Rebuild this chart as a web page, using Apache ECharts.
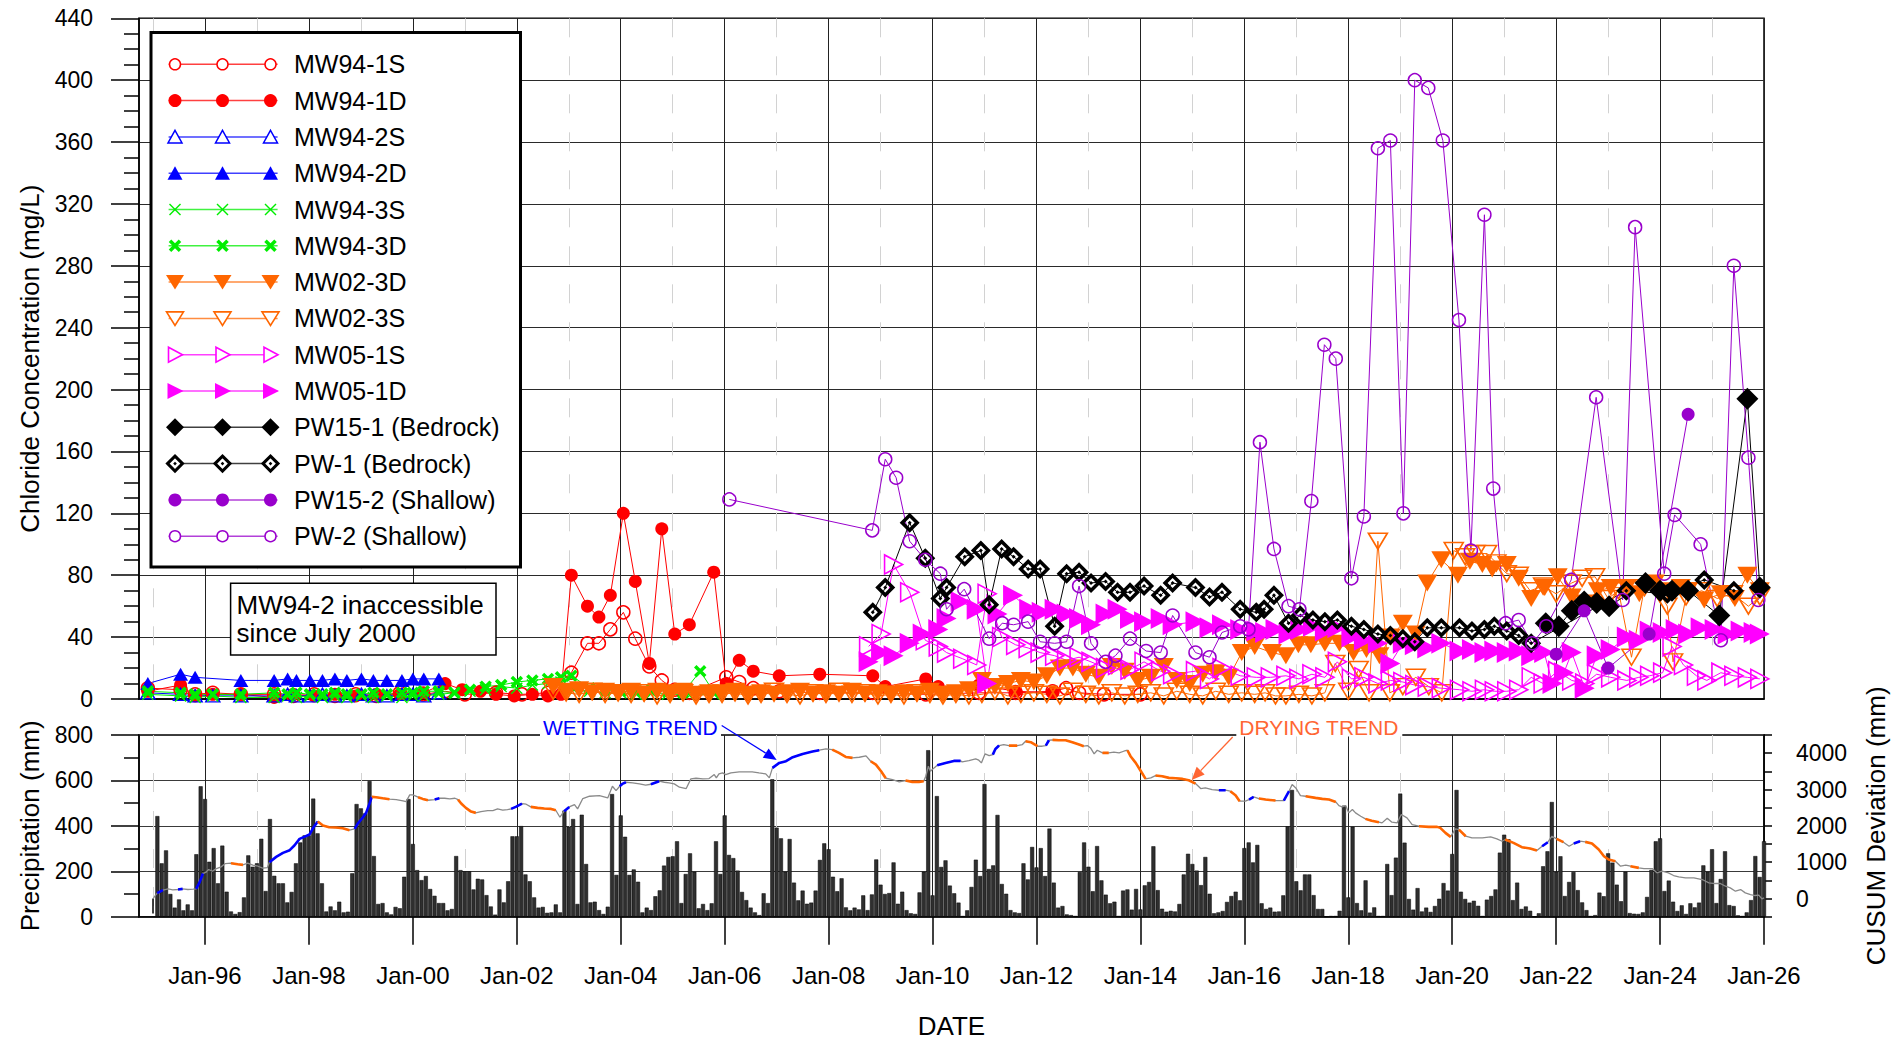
<!DOCTYPE html>
<html>
<head>
<meta charset="utf-8">
<title>Chloride Concentration, Precipitation and CUSUM Deviation</title>
<script src="https://cdn.jsdelivr.net/npm/echarts@6/dist/echarts.min.js"></script>
<style>
  html, body { margin: 0; padding: 0; background: #ffffff; }
  #chart { width: 1902px; height: 1047px; }
</style>
</head>
<body>
<div id="chart"></div>
<script>
// ---------- Chloride concentration (mg/L) by well: [decimal year, value] ----------
const mw94_1S = [[1994.90,7],[1995.53,6],[1995.81,3],[1996.15,4],[1996.69,3],[1997.33,3],[1997.70,2],[1998.10,3],[1998.50,2],[1998.90,3],[1999.30,2],[1999.75,4],[2000.20,3],[2000.62,5],[2001.00,3],[2001.60,4],[2002.10,3],[2002.60,4],[2003.05,17],[2003.36,36],[2003.58,36],[2003.80,45],[2004.05,56],[2004.28,39],[2004.55,21],[2004.79,12],[2005.04,6],[2005.32,4],[2006.03,14],[2006.28,11],[2006.55,7],[2007.05,5],[2007.83,4],[2008.85,4],[2009.87,3],[2010.89,4],[2011.60,4],[2012.31,5],[2012.57,7],[2012.82,4],[2013.30,3],[2014.00,3]];
const mw94_1D = [[1994.90,5],[1995.53,9],[1995.81,2],[1996.15,3],[1996.69,3],[1997.33,1],[1997.70,3],[1998.10,2],[1998.50,3],[1998.90,2],[1999.30,3],[1999.75,3],[2000.20,4],[2000.62,10],[2000.95,6],[2001.30,5],[2001.60,3],[2001.95,2],[2002.30,3],[2002.60,2],[2002.85,3],[2003.05,80],[2003.36,60],[2003.58,53],[2003.80,67],[2004.05,120],[2004.28,76],[2004.55,23],[2004.79,110],[2005.04,42],[2005.32,48],[2005.79,82],[2006.03,10],[2006.28,25],[2006.55,18],[2007.05,15],[2007.83,16],[2008.85,15],[2009.09,8],[2009.87,13],[2010.11,8],[2010.89,9],[2011.60,5],[2012.31,4]];
const mw94_2S = [[1994.90,4],[1995.53,3],[1995.81,2],[1996.15,2],[1996.69,2],[1997.33,2],[1997.59,3],[1997.76,2],[1998.02,2],[1998.26,3],[1998.50,2],[1998.73,2],[1999.01,3],[1999.24,2],[1999.50,2],[1999.79,3],[2000.00,3],[2000.21,2],[2000.50,4]];
const mw94_2D = [[1994.90,10],[1995.53,16],[1995.81,14],[1996.69,12],[1997.33,12],[1997.59,13],[1997.76,12],[1998.02,12],[1998.26,12],[1998.50,13],[1998.73,12],[1999.01,13],[1999.24,12],[1999.50,12],[1999.79,12],[2000.00,13],[2000.21,13],[2000.50,13]];
const mw94_3S = [[1994.90,3],[1995.53,2],[1995.81,1],[1996.15,2],[1996.69,1],[1997.33,1],[1997.59,2],[1997.76,1],[1998.02,2],[1998.26,1],[1998.50,2],[1998.73,1],[1999.01,2],[1999.24,1],[1999.50,2],[1999.79,1],[2000.00,2],[2000.21,2],[2000.50,3],[2000.80,4],[2001.10,5],[2001.40,6],[2001.70,8],[2002.00,7],[2002.30,9],[2002.60,10],[2002.85,11],[2003.10,6],[2003.40,5],[2003.70,4],[2004.00,4],[2004.30,3],[2004.60,4],[2004.90,3],[2005.30,3],[2005.80,3]];
const mw94_3D = [[1994.90,5],[1995.53,4],[1995.81,3],[1996.15,3],[1996.69,3],[1997.33,4],[1997.59,3],[1997.76,4],[1998.02,3],[1998.26,3],[1998.50,4],[1998.73,3],[1999.01,3],[1999.24,4],[1999.50,3],[1999.79,4],[2000.00,4],[2000.21,5],[2000.50,5],[2000.80,4],[2001.10,6],[2001.40,8],[2001.70,9],[2002.00,11],[2002.30,12],[2002.60,13],[2002.85,14],[2003.05,15],[2003.40,7],[2003.70,6],[2004.00,5],[2004.30,5],[2004.60,6],[2004.90,5],[2005.20,4],[2005.53,18],[2005.80,4]];
const mw02_3D = [[2002.70,8],[2002.95,5],[2003.20,6],[2003.45,4],[2003.70,5],[2003.95,4],[2004.20,5],[2004.45,3],[2004.70,5],[2004.95,4],[2005.20,5],[2005.45,3],[2005.70,4],[2005.95,4],[2006.20,5],[2006.45,3],[2006.70,4],[2006.95,3],[2007.20,4],[2007.45,5],[2007.70,3],[2007.95,4],[2008.20,3],[2008.45,5],[2008.70,3],[2008.95,4],[2009.20,3],[2009.45,4],[2009.70,3],[2009.95,5],[2010.20,3],[2010.45,4],[2010.70,6],[2010.95,12],[2011.20,8],[2011.45,10],[2011.70,12],[2011.95,11],[2012.20,15],[2012.45,20],[2012.70,20],[2012.95,16],[2013.20,14],[2013.45,21],[2013.70,18],[2013.95,12],[2014.20,14],[2014.45,21],[2014.70,12],[2014.95,10],[2015.20,16],[2015.45,17],[2015.70,14],[2015.95,30],[2016.20,34],[2016.53,30],[2016.80,28],[2017.04,35],[2017.28,35],[2017.55,36],[2017.83,36],[2018.10,30],[2018.35,32],[2018.60,28],[2018.82,40],[2019.05,49],[2019.30,42],[2019.52,75],[2019.79,90],[2020.11,80],[2020.34,89],[2020.58,87],[2020.77,84],[2021.05,87],[2021.28,78],[2021.52,65],[2021.78,72],[2022.03,79],[2022.30,66],[2022.55,62],[2022.80,70],[2023.05,72],[2023.36,72],[2023.60,68],[2023.90,75],[2024.15,70],[2024.40,72],[2024.54,70],[2024.85,64],[2025.17,68],[2025.44,65],[2025.68,80],[2025.92,70]];
const mw02_3S = [[2002.70,5],[2002.95,4],[2003.20,3],[2003.45,5],[2003.70,3],[2003.95,4],[2004.20,3],[2004.45,4],[2004.70,2],[2004.95,3],[2005.20,4],[2005.45,2],[2005.70,3],[2005.95,3],[2006.20,4],[2006.45,2],[2006.70,3],[2006.95,5],[2007.20,3],[2007.45,2],[2007.70,4],[2007.95,3],[2008.20,5],[2008.45,3],[2008.70,4],[2008.95,2],[2009.20,3],[2009.45,2],[2009.70,4],[2009.95,3],[2010.20,2],[2010.45,3],[2010.70,2],[2010.95,3],[2011.20,5],[2011.45,2],[2011.70,3],[2011.95,4],[2012.20,3],[2012.45,2],[2012.70,5],[2012.95,3],[2013.20,2],[2013.45,4],[2013.70,2],[2013.95,3],[2014.20,4],[2014.45,2],[2014.70,5],[2014.95,3],[2015.20,2],[2015.45,5],[2015.70,3],[2015.95,4],[2016.20,3],[2016.40,4],[2016.60,2],[2016.80,2],[2017.05,3],[2017.30,2],[2017.55,4],[2017.75,23],[2018.00,5],[2018.20,19],[2018.40,4],[2018.57,102],[2018.80,4],[2019.05,8],[2019.30,14],[2019.55,8],[2019.80,4],[2020.03,96],[2020.25,92],[2020.45,94],[2020.67,94],[2020.85,88],[2021.05,81],[2021.28,80],[2021.50,70],[2021.75,73],[2022.00,68],[2022.30,75],[2022.50,78],[2022.75,79],[2023.00,65],[2023.20,70],[2023.45,27],[2023.70,72],[2024.00,68],[2024.14,60],[2024.25,24],[2024.50,66],[2024.80,70],[2025.10,65],[2025.40,68],[2025.70,60],[2025.92,66]];
const mw05_1S = [[2008.77,34],[2009.01,42],[2009.25,87],[2009.56,69],[2009.86,38],[2010.11,34],[2010.27,30],[2010.58,26],[2010.85,22],[2011.05,68],[2011.33,40],[2011.60,35],[2011.84,33],[2012.07,30],[2012.35,28],[2012.58,25],[2012.82,27],[2013.05,24],[2013.33,20],[2013.56,22],[2013.80,19],[2014.07,24],[2014.39,18],[2014.62,16],[2015.06,18],[2015.33,13],[2015.57,20],[2015.92,15],[2016.23,14],[2016.50,14],[2016.80,15],[2017.05,13],[2017.30,16],[2017.55,14],[2017.79,24],[2018.06,13],[2018.30,14],[2018.57,10],[2018.81,12],[2019.05,11],[2019.28,9],[2019.52,8],[2019.79,7],[2020.14,6],[2020.38,5],[2020.62,6],[2020.81,5],[2021.05,5],[2021.28,6],[2021.52,14],[2021.75,10],[2022.03,18],[2022.30,12],[2022.55,10],[2022.78,16],[2023.05,14],[2023.36,12],[2023.59,14],[2023.80,15],[2024.05,17],[2024.23,34],[2024.45,22],[2024.70,15],[2024.90,12],[2025.17,17],[2025.42,15],[2025.68,14],[2025.92,13]];
const mw05_1D = [[2008.77,24],[2009.01,30],[2009.25,28],[2009.56,36],[2009.81,42],[2010.11,45],[2010.27,52],[2010.54,63],[2010.85,58],[2011.05,10],[2011.25,55],[2011.55,67],[2011.86,58],[2012.10,56],[2012.35,58],[2012.58,55],[2012.82,52],[2013.05,48],[2013.33,55],[2013.56,58],[2013.80,52],[2014.07,50],[2014.39,52],[2014.62,48],[2015.06,50],[2015.33,46],[2015.57,48],[2015.92,45],[2016.23,44],[2016.40,43],[2016.60,45],[2016.85,42],[2017.08,45],[2017.32,47],[2017.55,44],[2017.79,46],[2018.06,40],[2018.30,38],[2018.57,36],[2018.81,23],[2019.05,36],[2019.28,35],[2019.52,33],[2019.79,36],[2020.14,31],[2020.38,32],[2020.62,30],[2020.81,31],[2021.05,30],[2021.28,31],[2021.52,28],[2021.77,30],[2021.93,10],[2022.15,17],[2022.30,30],[2022.55,7],[2022.78,28],[2023.05,32],[2023.36,40],[2023.59,38],[2023.80,44],[2024.05,43],[2024.30,45],[2024.54,42],[2024.78,46],[2025.05,45],[2025.30,42],[2025.55,44],[2025.80,43],[2025.92,42]];
const pw15_1 = [[2021.80,49],[2022.05,47],[2022.30,57],[2022.54,63],[2022.78,62],[2023.02,60],[2023.72,75],[2024.00,70],[2024.23,70],[2024.54,70],[2025.14,54],[2025.68,194],[2025.92,72]];
const pw_1 = [[2008.85,56],[2009.09,72],[2009.56,114],[2009.86,91],[2010.15,65],[2010.27,72],[2010.62,92],[2010.93,96],[2011.09,61],[2011.33,97],[2011.56,92],[2011.84,84],[2012.07,84],[2012.35,47],[2012.58,81],[2012.82,82],[2013.05,75],[2013.33,76],[2013.56,69],[2013.80,69],[2014.07,73],[2014.39,67],[2014.62,75],[2015.06,72],[2015.33,66],[2015.57,69],[2015.92,58],[2016.23,56],[2016.38,58],[2016.57,67],[2016.85,49],[2017.08,54],[2017.32,51],[2017.55,50],[2017.79,51],[2018.06,47],[2018.30,45],[2018.57,42],[2018.81,41],[2019.05,39],[2019.28,37],[2019.52,46],[2019.79,46],[2020.14,46],[2020.38,44],[2020.62,45],[2020.81,47],[2021.05,44],[2021.28,41],[2021.52,36],[2023.35,70],[2024.14,68],[2024.85,77],[2025.42,70]];
const pw15_2 = [[2022.00,29],[2022.54,57],[2023.00,20],[2023.79,42],[2024.54,184]];
const pw_2 = [[2006.09,129],[2008.84,109],[2009.09,155],[2009.30,143],[2009.56,102],[2009.86,90],[2010.15,81],[2010.27,58],[2010.61,71],[2011.09,39],[2011.34,49],[2011.56,48],[2011.84,50],[2012.07,37],[2012.35,36],[2012.58,37],[2012.82,73],[2013.05,36],[2013.33,24],[2013.52,28],[2013.80,39],[2014.11,31],[2014.39,30],[2014.62,54],[2015.06,30],[2015.33,27],[2015.57,43],[2015.92,47],[2016.08,45],[2016.30,166],[2016.57,97],[2016.85,60],[2017.06,58],[2017.29,128],[2017.54,229],[2017.76,220],[2018.06,78],[2018.30,118],[2018.57,356],[2018.81,361],[2019.06,120],[2019.28,400],[2019.54,395],[2019.82,361],[2020.13,245],[2020.36,96],[2020.62,313],[2020.79,136],[2021.03,49],[2021.28,51],[2021.54,36],[2021.81,47],[2022.29,77],[2022.77,195],[2023.28,64],[2023.52,305],[2024.08,81],[2024.28,119],[2024.78,100],[2025.17,38],[2025.42,280],[2025.70,156],[2025.89,64]];

// ---------- Monthly precipitation (mm), one row per year, Jan..Dec ----------
const precipFirstYear = 1995;
const precipByYear = [
  [443,235,292,100,40,76,28,54,28,275,574,518],
  [242,302,147,313,110,23,12,20,85,270,220,235],
  [343,113,430,180,147,147,63,109,235,327,358,358],
  [520,367,147,23,45,28,66,19,22,191,496,477],
  [455,597,267,56,60,19,10,43,37,176,518,320],
  [205,161,179,122,92,60,60,28,34,267,205,200],
  [200,120,167,164,95,45,9,120,63,156,354,354],
  [399,186,156,85,40,43,17,19,54,19,467,396],
  [430,56,449,232,63,66,29,12,44,540,184,446],
  [352,184,208,154,19,40,29,90,116,225,263,266],
  [332,60,188,279,198,37,56,29,59,332,188,446],
  [272,258,203,109,73,40,19,7,103,60,605,392],
  [345,198,342,150,72,115,57,62,115,250,323,297],
  [176,112,169,41,28,40,32,94,29,98,252,141],
  [100,104,239,57,110,29,15,12,107,198,733,94],
  [531,219,248,137,103,62,3,28,131,251,179,584],
  [210,226,448,144,101,29,19,16,235,164,307,217],
  [302,179,388,150,40,47,10,7,3,197,327,220],
  [112,311,160,97,59,66,3,115,120,31,122,32],
  [138,153,310,117,35,22,26,23,56,186,277,232],
  [203,139,263,101,15,19,25,65,91,110,72,302],
  [327,239,316,59,34,40,22,23,94,398,558,156],
  [116,186,186,95,34,34,0,3,3,26,489,85],
  [396,60,28,160,18,41,3,3,232,95,260,542],
  [326,78,31,126,23,40,21,47,79,148,115,276],
  [558,110,78,62,70,48,3,75,91,120,282,361],
  [341,73,150,34,45,26,0,15,222,288,505,198],
  [266,91,153,197,117,63,29,3,7,106,90,279],
  [238,141,68,198,16,13,12,19,87,206,332,345],
  [113,159,66,25,50,12,59,41,62,226,198,297],
  [60,166,288,51,47,6,3,19,73,267,175,332]
];

// ---------- CUSUM deviation (mm): [decimal year, value, trend of the following segment] ----------
// trend: 'w' wetting, 'd' drying, 'g' neither
const cusum = [
  [1995.01,18,'g'],[1995.08,147,'w'],[1995.19,229,'g'],[1995.29,266,'g'],[1995.38,238,'g'],[1995.48,248,'w'],[1995.57,266,'g'],[1995.67,248,'g'],[1995.77,257,'g'],[1995.83,266,'w'],[1995.90,458,'w'],[1995.96,688,'g'],
  [1996.02,724,'g'],[1996.07,798,'g'],[1996.14,752,'g'],[1996.21,816,'g'],[1996.31,871,'g'],[1996.39,963,'g'],[1996.50,972,'d'],[1996.63,944,'d'],[1996.73,926,'g'],[1996.82,972,'g'],[1996.92,917,'g'],
  [1997.02,889,'g'],[1997.11,834,'g'],[1997.20,853,'g'],[1997.24,1000,'w'],[1997.37,1146,'w'],[1997.50,1256,'w'],[1997.63,1330,'w'],[1997.72,1458,'w'],[1997.82,1641,'w'],[1997.91,1696,'w'],
  [1998.01,1761,'w'],[1998.09,1962,'w'],[1998.17,2118,'d'],[1998.27,2008,'d'],[1998.39,1962,'d'],[1998.52,1953,'d'],[1998.65,1935,'d'],[1998.78,1880,'g'],[1998.88,1917,'w'],[1998.94,2063,'w'],
  [1999.04,2237,'w'],[1999.10,2357,'w'],[1999.16,2586,'w'],[1999.21,2797,'d'],[1999.29,2788,'d'],[1999.42,2760,'d'],[1999.55,2733,'g'],[1999.68,2723,'g'],[1999.81,2687,'g'],[1999.87,2668,'g'],[1999.94,2852,'g'],
  [2000.00,2852,'g'],[2000.10,2788,'d'],[2000.19,2742,'d'],[2000.29,2705,'g'],[2000.42,2723,'w'],[2000.51,2760,'g'],[2000.61,2760,'g'],[2000.71,2742,'g'],[2000.81,2760,'g'],[2000.87,2723,'d'],[2000.93,2613,'d'],
  [2001.02,2494,'d'],[2001.12,2393,'d'],[2001.21,2357,'g'],[2001.31,2393,'g'],[2001.44,2421,'g'],[2001.54,2421,'g'],[2001.63,2467,'g'],[2001.73,2430,'g'],[2001.82,2448,'g'],[2001.89,2467,'w'],[2001.98,2522,'w'],
  [2002.10,2613,'g'],[2002.18,2595,'g'],[2002.27,2522,'d'],[2002.40,2494,'d'],[2002.53,2476,'d'],[2002.66,2467,'d'],[2002.75,2430,'g'],[2002.83,2237,'g'],[2002.91,2403,'w'],
  [2003.01,2522,'g'],[2003.11,2586,'g'],[2003.17,2467,'g'],[2003.27,2751,'g'],[2003.40,2815,'g'],[2003.59,2833,'g'],[2003.75,2769,'g'],[2003.84,3090,'g'],[2003.91,2971,'g'],[2003.98,3090,'w'],
  [2004.03,3154,'w'],[2004.10,3200,'g'],[2004.23,3182,'g'],[2004.36,3154,'g'],[2004.48,3118,'g'],[2004.58,3145,'w'],[2004.74,3228,'g'],[2004.84,3200,'g'],[2004.93,3182,'g'],
  [2005.03,3154,'g'],[2005.13,3063,'g'],[2005.26,3026,'g'],[2005.35,3292,'g'],[2005.45,3310,'g'],[2005.58,3292,'g'],[2005.70,3301,'g'],[2005.80,3411,'g'],[2005.84,3320,'g'],[2005.89,3430,'g'],[2005.96,3457,'g'],
  [2006.02,3411,'g'],[2006.12,3457,'g'],[2006.28,3485,'g'],[2006.41,3485,'g'],[2006.53,3485,'g'],[2006.66,3457,'g'],[2006.79,3430,'g'],[2006.86,3320,'g'],[2006.92,3595,'w'],
  [2007.05,3732,'w'],[2007.18,3778,'w'],[2007.31,3888,'w'],[2007.50,3980,'w'],[2007.69,4044,'w'],[2007.82,4081,'g'],[2007.95,4117,'g'],
  [2008.07,4099,'d'],[2008.20,4007,'d'],[2008.33,3897,'d'],[2008.46,3870,'g'],[2008.59,3888,'g'],[2008.72,3925,'g'],[2008.81,3778,'d'],[2008.91,3686,'d'],
  [2009.01,3503,'d'],[2009.10,3310,'g'],[2009.23,3274,'g'],[2009.36,3210,'g'],[2009.48,3246,'d'],[2009.61,3210,'d'],[2009.74,3210,'d'],[2009.83,3228,'g'],[2009.87,3365,'g'],[2009.92,3640,'g'],[2009.96,3503,'g'],
  [2010.03,3595,'g'],[2010.09,3668,'w'],[2010.25,3732,'w'],[2010.41,3787,'w'],[2010.54,3787,'g'],[2010.57,3760,'g'],[2010.70,3796,'g'],[2010.83,3842,'g'],[2010.89,3806,'g'],[2010.94,3732,'g'],
  [2011.01,3980,'g'],[2011.09,3934,'g'],[2011.16,3961,'w'],[2011.21,4117,'w'],[2011.28,4209,'g'],[2011.37,4237,'g'],[2011.47,4209,'d'],[2011.63,4209,'g'],[2011.73,4237,'g'],[2011.79,4328,'d'],[2011.89,4301,'d'],
  [2012.02,4191,'g'],[2012.11,4191,'g'],[2012.18,4209,'w'],[2012.24,4356,'g'],[2012.31,4365,'d'],[2012.43,4356,'d'],[2012.56,4356,'d'],[2012.69,4301,'d'],[2012.82,4237,'d'],[2012.91,4191,'g'],[2012.98,4209,'g'],
  [2013.04,4145,'g'],[2013.11,3980,'g'],[2013.17,4081,'g'],[2013.27,4007,'d'],[2013.39,4007,'g'],[2013.49,4026,'g'],[2013.59,4007,'g'],[2013.68,4053,'g'],[2013.75,4081,'d'],[2013.81,3916,'d'],[2013.91,3732,'d'],
  [2014.01,3503,'d'],[2014.10,3292,'g'],[2014.20,3320,'g'],[2014.29,3384,'d'],[2014.42,3365,'d'],[2014.55,3320,'d'],[2014.68,3310,'d'],[2014.81,3292,'d'],[2014.93,3255,'d'],
  [2015.06,3164,'g'],[2015.16,3026,'g'],[2015.25,3044,'g'],[2015.38,2999,'g'],[2015.51,2980,'w'],[2015.64,2980,'g'],[2015.73,2953,'d'],[2015.83,2843,'d'],[2015.91,2678,'g'],
  [2016.02,2678,'g'],[2016.09,2723,'w'],[2016.18,2797,'g'],[2016.28,2751,'d'],[2016.41,2723,'d'],[2016.60,2696,'g'],[2016.76,2696,'w'],[2016.86,2953,'g'],[2016.92,3136,'g'],[2016.99,3044,'g'],
  [2017.08,2834,'g'],[2017.18,2815,'d'],[2017.37,2769,'d'],[2017.50,2742,'d'],[2017.63,2723,'d'],[2017.76,2659,'g'],[2017.82,2558,'g'],[2017.88,2522,'g'],[2017.95,2558,'g'],
  [2018.01,2357,'g'],[2018.08,2448,'g'],[2018.14,2357,'g'],[2018.24,2265,'g'],[2018.33,2192,'d'],[2018.45,2140,'d'],[2018.59,2100,'g'],[2018.65,2082,'g'],[2018.75,2210,'g'],[2018.84,2100,'g'],[2018.94,2082,'g'],
  [2019.02,2311,'g'],[2019.13,2219,'g'],[2019.23,2036,'g'],[2019.36,1990,'d'],[2019.55,1972,'d'],[2019.71,1972,'g'],[2019.77,1944,'d'],[2019.87,1806,'d'],[2019.97,1696,'g'],
  [2020.06,1917,'g'],[2020.13,1898,'d'],[2020.26,1715,'g'],[2020.38,1669,'g'],[2020.58,1669,'g'],[2020.74,1696,'g'],[2020.86,1641,'g'],[2020.96,1577,'g'],
  [2021.02,1623,'d'],[2021.18,1531,'d'],[2021.34,1412,'d'],[2021.50,1376,'d'],[2021.63,1320,'g'],[2021.73,1440,'w'],[2021.84,1550,'g'],[2021.92,1715,'g'],
  [2022.01,1641,'d'],[2022.14,1550,'g'],[2022.25,1440,'g'],[2022.34,1513,'w'],[2022.46,1577,'g'],[2022.56,1559,'d'],[2022.69,1513,'d'],[2022.82,1348,'d'],[2022.92,1165,'d'],
  [2023.01,1073,'d'],[2023.14,1027,'g'],[2023.24,889,'g'],[2023.34,917,'g'],[2023.43,889,'d'],[2023.59,844,'g'],[2023.69,825,'g'],[2023.85,825,'g'],[2023.94,706,'g'],
  [2024.04,752,'g'],[2024.16,706,'g'],[2024.26,633,'g'],[2024.36,596,'g'],[2024.49,569,'g'],[2024.65,569,'g'],[2024.81,523,'g'],[2024.94,431,'g'],
  [2025.06,413,'g'],[2025.16,413,'g'],[2025.26,339,'g'],[2025.35,293,'g'],[2025.45,202,'g'],[2025.55,248,'g'],[2025.64,156,'g'],[2025.74,110,'g'],[2025.83,83,'g'],[2025.90,92,'g'],[2025.96,-9,'g'],[2026.00,18,'g']
];

// ---------- Axis ticks ----------
const majorYears = [1996,1998,2000,2002,2004,2006,2008,2010,2012,2014,2016,2018,2020,2022,2024,2026];
const minorYears = [1995,1997,1999,2001,2003,2005,2007,2009,2011,2013,2015,2017,2019,2021,2023,2025];

// ---------- Layout and style constants ----------
const FONT = '"Liberation Sans", Arial, Helvetica, sans-serif';
const X_MIN = 1994.73, X_MAX = 2026.0;
const GRID_LEFT = 139, GRID_RIGHT = 138;
const RED = '#ff0000', BLUE = '#0000ff', GREEN = '#00ee00', ORANGE = '#ff6600',
      MAGENTA = '#ff00ff', BLACK = '#000000', PURPLE = '#9900cc';
const X_PATH = 'path://M0,0L10,10M10,0L0,10';
const RING_PATH = 'path://M10,0L20,10L10,20L0,10Z M10,5L5,10L10,15L15,10Z M10,8L12,10L10,12L8,10Z';

const wells = [
  { name: 'MW94-1S', data: mw94_1S, color: RED, kind: 'circleOpen' },
  { name: 'MW94-1D', data: mw94_1D, color: RED, kind: 'circleFill' },
  { name: 'MW94-2S', data: mw94_2S, color: BLUE, kind: 'triUpOpen' },
  { name: 'MW94-2D', data: mw94_2D, color: BLUE, kind: 'triUpFill' },
  { name: 'MW94-3S', data: mw94_3S, color: GREEN, kind: 'xThin' },
  { name: 'MW94-3D', data: mw94_3D, color: GREEN, kind: 'xBold' },
  { name: 'MW02-3D', data: mw02_3D, color: ORANGE, kind: 'triDownFill' },
  { name: 'MW02-3S', data: mw02_3S, color: ORANGE, kind: 'triDownOpen' },
  { name: 'MW05-1S', data: mw05_1S, color: MAGENTA, kind: 'triRightOpen' },
  { name: 'MW05-1D', data: mw05_1D, color: MAGENTA, kind: 'triRightFill' },
  { name: 'PW15-1 (Bedrock)', data: pw15_1, color: BLACK, kind: 'diamondFill' },
  { name: 'PW-1 (Bedrock)', data: pw_1, color: BLACK, kind: 'diamondRing' },
  { name: 'PW15-2 (Shallow)', data: pw15_2, color: PURPLE, kind: 'circleFill' },
  { name: 'PW-2 (Shallow)', data: pw_2, color: PURPLE, kind: 'circleOpen' }
];

const CLEAR = 'rgba(255,255,255,0)';
function symbolStyle(kind, color) {
  switch (kind) {
    case 'circleOpen':   return { symbol: 'circle', symbolSize: 13, itemStyle: { color: CLEAR, borderColor: color, borderWidth: 1.5 } };
    case 'circleFill':   return { symbol: 'circle', symbolSize: 13, itemStyle: { color: color, borderWidth: 0 } };
    case 'triUpOpen':    return { symbol: 'triangle', symbolSize: [14, 12], itemStyle: { color: CLEAR, borderColor: color, borderWidth: 1.5 } };
    case 'triUpFill':    return { symbol: 'triangle', symbolSize: [15, 13], itemStyle: { color: color, borderWidth: 0 } };
    case 'xThin':        return { symbol: X_PATH, symbolSize: 11, itemStyle: { color: color, borderColor: color, borderWidth: 1.4 } };
    case 'xBold':        return { symbol: X_PATH, symbolSize: 10, itemStyle: { color: color, borderColor: color, borderWidth: 3.5 } };
    case 'triDownFill':  return { symbol: 'triangle', symbolRotate: 180, symbolSize: [20, 17], itemStyle: { color: color, borderWidth: 0 } };
    case 'triDownOpen':  return { symbol: 'triangle', symbolRotate: 180, symbolSize: [19, 16], itemStyle: { color: CLEAR, borderColor: color, borderWidth: 1.6 } };
    case 'triRightOpen': return { symbol: 'triangle', symbolRotate: -90, symbolSize: [19, 18], itemStyle: { color: CLEAR, borderColor: color, borderWidth: 1.6 } };
    case 'triRightFill': return { symbol: 'triangle', symbolRotate: -90, symbolSize: [21, 20], itemStyle: { color: color, borderWidth: 0 } };
    case 'diamondFill':  return { symbol: 'diamond', symbolSize: 22, itemStyle: { color: color, borderWidth: 0 } };
    case 'diamondRing':  return { symbol: RING_PATH, symbolSize: 20, itemStyle: { color: color, borderWidth: 0 } };
  }
}

// ---------- Legend drawn as graphics (line with three markers per entry) ----------
const LEG = { x: 151, y: 32.5, w: 369.5, h: 534.5, row0: 64.3, rowGap: 36.3, lineX1: 168.6, lineX2: 277.6, marks: [175, 222.5, 270.5], textX: 294 };

function legendMarker(kind, color, cx, cy) {
  const base = { z: 101, silent: true };
  const poly = (pts, fill, stroke, lw) => Object.assign({ type: 'polygon', shape: { points: pts }, style: { fill: fill, stroke: stroke, lineWidth: lw } }, base);
  switch (kind) {
    case 'circleOpen': return [Object.assign({ type: 'circle', shape: { cx, cy, r: 5.5 }, style: { fill: '#fff', stroke: color, lineWidth: 1.5 } }, base)];
    case 'circleFill': return [Object.assign({ type: 'circle', shape: { cx, cy, r: 6.5 }, style: { fill: color } }, base)];
    case 'triUpOpen':  return [poly([[cx, cy - 6.5], [cx + 7, cy + 6], [cx - 7, cy + 6]], '#fff', color, 1.5)];
    case 'triUpFill':  return [poly([[cx, cy - 7], [cx + 7.5, cy + 6.5], [cx - 7.5, cy + 6.5]], color, color, 0)];
    case 'xThin':
    case 'xBold': {
      const d = kind === 'xThin' ? 5.5 : 5, lw = kind === 'xThin' ? 1.4 : 3.5;
      return [
        Object.assign({ type: 'line', shape: { x1: cx - d, y1: cy - d, x2: cx + d, y2: cy + d }, style: { stroke: color, lineWidth: lw } }, base),
        Object.assign({ type: 'line', shape: { x1: cx + d, y1: cy - d, x2: cx - d, y2: cy + d }, style: { stroke: color, lineWidth: lw } }, base)
      ];
    }
    case 'triDownFill':  return [poly([[cx - 9, cy - 7], [cx + 9, cy - 7], [cx, cy + 7.5]], color, color, 0)];
    case 'triDownOpen':  return [poly([[cx - 8.5, cy - 6.5], [cx + 8.5, cy - 6.5], [cx, cy + 7]], '#fff', color, 1.6)];
    case 'triRightOpen': return [poly([[cx - 6.5, cy - 7.5], [cx + 7.5, cy], [cx - 6.5, cy + 7.5]], '#fff', color, 1.6)];
    case 'triRightFill': return [poly([[cx - 7.5, cy - 8], [cx + 8.5, cy], [cx - 7.5, cy + 8]], color, color, 0)];
    case 'diamondFill':  return [poly([[cx, cy - 9], [cx + 9, cy], [cx, cy + 9], [cx - 9, cy]], color, color, 0)];
    case 'diamondRing':  return [
      poly([[cx, cy - 7.5], [cx + 7.5, cy], [cx, cy + 7.5], [cx - 7.5, cy]], '#fff', color, 3),
      poly([[cx, cy - 1.8], [cx + 1.8, cy], [cx, cy + 1.8], [cx - 1.8, cy]], color, color, 0)
    ];
  }
  return [];
}

const graphics = [];
graphics.push({ type: 'rect', z: 100, silent: true, shape: { x: LEG.x, y: LEG.y, width: LEG.w, height: LEG.h }, style: { fill: '#fff', stroke: '#000', lineWidth: 3 } });
wells.forEach((w, i) => {
  const cy = LEG.row0 + LEG.rowGap * i;
  graphics.push({ type: 'line', z: 101, silent: true, shape: { x1: LEG.lineX1, y1: cy, x2: LEG.lineX2, y2: cy }, style: { stroke: w.color, lineWidth: 1.5, opacity: 0.75 } });
  LEG.marks.forEach(mx => legendMarker(w.kind, w.color, mx, cy).forEach(el => graphics.push(el)));
  graphics.push({ type: 'text', z: 101, silent: true, x: LEG.textX, y: cy,
    style: { text: w.name, fill: '#000', fontSize: 25, fontFamily: FONT, align: 'left', verticalAlign: 'middle', textAlign: 'left', textVerticalAlign: 'middle' } });
});

// Note box in the chloride panel
graphics.push({ type: 'rect', z: 100, silent: true, shape: { x: 230.6, y: 583.3, width: 265.4, height: 71.7 }, style: { fill: '#fff', stroke: '#000', lineWidth: 1.5 } });
['MW94-2 inaccessible', 'since July 2000'].forEach((t, i) => {
  graphics.push({ type: 'text', z: 101, silent: true, x: 236.5, y: 605 + 28.3 * i,
    style: { text: t, fill: '#000', fontSize: 26, fontFamily: FONT, align: 'left', verticalAlign: 'middle', textAlign: 'left', textVerticalAlign: 'middle' } });
});

// Trend call-outs with arrows on the precipitation panel
function callout(label, color, tx, boxW, from, tip) {
  const dx = tip[0] - from[0], dy = tip[1] - from[1], len = Math.hypot(dx, dy);
  const ux = dx / len, uy = dy / len, nx = -uy, ny = ux;
  const bx = tip[0] - 13 * ux, by = tip[1] - 13 * uy;
  graphics.push({ type: 'rect', z: 100, silent: true, shape: { x: tx - 3, y: 716, width: boxW, height: 20.5 }, style: { fill: '#fff' } });
  graphics.push({ type: 'text', z: 101, silent: true, x: tx, y: 727,
    style: { text: label, fill: color, fontSize: 21, fontFamily: FONT, align: 'left', verticalAlign: 'middle', textAlign: 'left', textVerticalAlign: 'middle' } });
  graphics.push({ type: 'line', z: 101, silent: true, shape: { x1: from[0], y1: from[1], x2: bx, y2: by }, style: { stroke: color, lineWidth: 1.3 } });
  graphics.push({ type: 'polygon', z: 101, silent: true, shape: { points: [[tip[0], tip[1]], [bx + 5.5 * nx, by + 5.5 * ny], [bx - 5.5 * nx, by - 5.5 * ny]] }, style: { fill: color } });
}
callout('WETTING TREND', '#0000ff', 543, 181, [721.7, 725.5], [776.7, 760]);
callout('DRYING TREND', '#ff6633', 1239.3, 166, [1232.7, 737], [1191.7, 780]);

// ---------- Derived series data ----------
const precipBars = [];
precipByYear.forEach((row, yi) => {
  row.forEach((v, m) => precipBars.push([precipFirstYear + yi + (m + 1) / 12, v]));
});
function trendLine(code) {
  return cusum.map((p, i) => {
    const on = p[2] === code || (i > 0 && cusum[i - 1][2] === code);
    return on ? [p[0], p[1]] : [p[0], '-'];
  });
}

const chlorideSeries = wells.map(w => Object.assign({
  name: w.name, type: 'line', xAxisIndex: 0, yAxisIndex: 0,
  data: w.data, showSymbol: true, clip: false,
  lineStyle: { color: w.color, width: 1 },
  emphasis: { disabled: true }, animation: false
}, symbolStyle(w.kind, w.color)));

const axisLabelStyle = { color: '#000', fontFamily: FONT };
const tickLine = { color: '#000', width: 1.5 };
const majorSplit = { show: true, lineStyle: { color: '#222', width: 1 } };
const minorSplit = { show: true, lineStyle: { color: '#d2d2d2', width: 1, type: [19, 19] } };

const option = {
  animation: false,
  backgroundColor: '#ffffff',
  textStyle: { fontFamily: FONT },
  grid: [
    { left: GRID_LEFT, right: GRID_RIGHT, top: 18.3, height: 680.7, show: true, borderColor: '#000', borderWidth: 1.5, backgroundColor: 'transparent' },
    { left: GRID_LEFT, right: GRID_RIGHT, top: 735, height: 181.7, show: true, borderColor: '#000', borderWidth: 1.5, backgroundColor: 'transparent' }
  ],
  xAxis: [
    { gridIndex: 0, type: 'value', position: 'bottom', min: X_MIN, max: X_MAX,
      axisLine: { show: true, lineStyle: tickLine }, axisTick: { show: false, customValues: majorYears },
      axisLabel: { show: false, customValues: majorYears }, splitLine: majorSplit },
    { gridIndex: 0, type: 'value', position: 'bottom', min: X_MIN, max: X_MAX,
      axisLine: { show: false }, axisTick: { show: false, customValues: minorYears },
      axisLabel: { show: false, customValues: minorYears }, splitLine: minorSplit },
    { gridIndex: 1, type: 'value', position: 'bottom', min: X_MIN, max: X_MAX,
      name: 'DATE', nameLocation: 'middle', nameGap: 96,
      nameTextStyle: { fontSize: 26, color: '#000', fontFamily: FONT },
      axisLine: { show: true, lineStyle: tickLine },
      axisTick: { show: true, length: 28, customValues: majorYears, lineStyle: tickLine },
      axisLabel: Object.assign({ customValues: majorYears, fontSize: 24, margin: 47,
        formatter: v => 'Jan-' + String(Math.round(v) % 100).padStart(2, '0') }, axisLabelStyle),
      splitLine: majorSplit },
    { gridIndex: 1, type: 'value', position: 'bottom', min: X_MIN, max: X_MAX,
      axisLine: { show: false },
      axisTick: { show: true, length: 15, customValues: minorYears, lineStyle: tickLine },
      axisLabel: { show: false, customValues: minorYears }, splitLine: minorSplit }
  ],
  yAxis: [
    { gridIndex: 0, type: 'value', position: 'left', min: 0, max: 440, interval: 40,
      name: 'Chloride Concentration (mg/L)', nameLocation: 'middle', nameGap: 96,
      nameTextStyle: { fontSize: 26, color: '#000', fontFamily: FONT },
      axisLine: { show: true, lineStyle: tickLine },
      axisTick: { show: true, length: 28, lineStyle: tickLine },
      minorTick: { show: true, splitNumber: 4, length: 15, lineStyle: tickLine },
      axisLabel: Object.assign({ fontSize: 23, margin: 46 }, axisLabelStyle),
      splitLine: { show: true, lineStyle: { color: '#2a2a2a', width: 1 } } },
    { gridIndex: 1, type: 'value', position: 'left', min: 0, max: 800, interval: 200,
      name: 'Precipitation (mm)', nameLocation: 'middle', nameGap: 96,
      nameTextStyle: { fontSize: 26, color: '#000', fontFamily: FONT },
      axisLine: { show: true, lineStyle: tickLine },
      axisTick: { show: true, length: 28, lineStyle: tickLine },
      minorTick: { show: true, splitNumber: 2, length: 15, lineStyle: tickLine },
      axisLabel: Object.assign({ fontSize: 23, margin: 46 }, axisLabelStyle),
      splitLine: { show: true, lineStyle: { color: '#3a3a3a', width: 1 } } },
    { gridIndex: 1, type: 'value', position: 'right', min: -500, max: 4500, interval: 500,
      name: 'CUSUM Deviation (mm)', nameLocation: 'middle', nameGap: 99,
      nameTextStyle: { fontSize: 26, color: '#000', fontFamily: FONT },
      axisLine: { show: true, lineStyle: tickLine },
      axisTick: { show: true, length: 8, lineStyle: tickLine },
      axisLabel: Object.assign({ fontSize: 23, margin: 32,
        formatter: v => (v >= 0 && v <= 4000 && v % 1000 === 0) ? String(v) : '' }, axisLabelStyle),
      splitLine: { show: false } }
  ],
  graphic: { elements: graphics },
  series: chlorideSeries.concat([
    { name: 'Precipitation', type: 'bar', xAxisIndex: 2, yAxisIndex: 1, data: precipBars,
      barWidth: 4, itemStyle: { color: '#2f2f2f', borderColor: '#000', borderWidth: 0.5 },
      emphasis: { disabled: true } },
    { name: 'CUSUM', type: 'line', xAxisIndex: 2, yAxisIndex: 2, data: cusum.map(p => [p[0], p[1]]),
      showSymbol: false, lineStyle: { color: '#8a8a8a', width: 1.3 }, emphasis: { disabled: true } },
    { name: 'Wetting trend', type: 'line', xAxisIndex: 2, yAxisIndex: 2, data: trendLine('w'),
      showSymbol: false, connectNulls: false, lineStyle: { color: '#0000ff', width: 2.6 }, emphasis: { disabled: true } },
    { name: 'Drying trend', type: 'line', xAxisIndex: 2, yAxisIndex: 2, data: trendLine('d'),
      showSymbol: false, connectNulls: false, lineStyle: { color: '#ff6600', width: 2.6 }, emphasis: { disabled: true } }
  ])
};

const chart = echarts.init(document.getElementById('chart'), null, { renderer: 'svg' });
chart.setOption(option);
</script>
</body>
</html>
